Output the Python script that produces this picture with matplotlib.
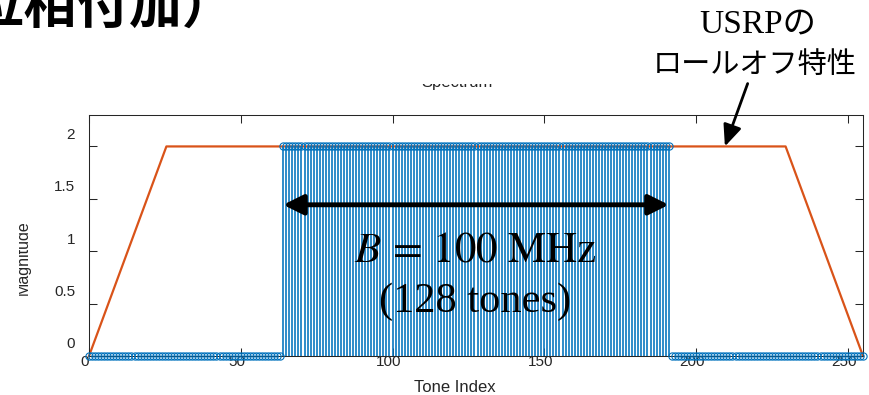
import matplotlib
matplotlib.use('Agg')
import matplotlib.pyplot as plt
import numpy as np
from matplotlib.transforms import Bbox, TransformedBbox, ScaledTranslation

# ---- data ----
tone_index = np.arange(256)
magnitudes = [0] * 64 + [2] * 128 + [0] * 64
rolloff_x = [0, 25.5, 229.5, 255]
rolloff_y = [0, 2, 2, 0]
xticks = [0, 50, 100, 150, 200, 250]
yticks = [0, 0.5, 1, 1.5, 2]
ytick_labels = ['0', '0.5', '1', '1.5', '2']
band_start, band_end = 64, 191

W, H = 870, 395
fig = plt.figure(figsize=(W / 100, H / 100), dpi=100)
ax = fig.add_axes([89 / W, 39 / H, (863 - 89) / W, (356 - 115) / H])

blue = '#0072BD'
orange = '#D95319'
gray = '#262626'

ax.plot(rolloff_x, rolloff_y, color=orange, lw=1.6, zorder=2, clip_on=False)
markerline, stemlines, baseline = ax.stem(tone_index, magnitudes, basefmt=' ')
plt.setp(stemlines, color=blue, linewidth=1.15, zorder=3)
plt.setp(markerline, marker='o', markersize=5.2, markerfacecolor='none',
         markeredgecolor=blue, markeredgewidth=0.8, clip_on=False, zorder=4)

ax.set_xlim(0, 255)
ax.set_ylim(0, 2.3)
ax.set_xticks(xticks)
ax.set_yticks(yticks)
ax.set_yticklabels(ytick_labels)
for s in ax.spines.values():
    s.set_color(gray)
    s.set_linewidth(0.75)
ax.tick_params(direction='in', length=6, width=0.75, color=gray, top=True,
               right=True, labelsize=11, labelcolor=gray)
ax.tick_params(axis='x', pad=-1)
ax.tick_params(axis='y', pad=10)
for lab in ax.get_xticklabels():
    lab.set_fontfamily('Liberation Sans')
    lab.set_transform(lab.get_transform() + ScaledTranslation(-4 / 100, 0, fig.dpi_scale_trans))
for lab in ax.get_yticklabels():
    lab.set_fontfamily('Liberation Sans')
    lab.set_transform(lab.get_transform() + ScaledTranslation(0, 13 / 100, fig.dpi_scale_trans))

# axis labels and title (partly hidden in the screenshot)
fig.text(455 / W, 1 - 388 / H, 'Tone Index', ha='center', va='center',
         fontsize=12, color=gray, family='Liberation Sans')
ylab = fig.text(31 / W, 1 - 258 / H, 'Magnitude', ha='right', va='center',
                rotation=90, fontsize=11.5, color=gray, family='Liberation Sans')
ylab.set_clip_box(TransformedBbox(Bbox([[19.5 / W, 0], [1, 1]]), fig.transFigure))
ylab.set_clip_on(True)
ttl = fig.text(457 / W, 1 - 87.5 / H, 'Spectrum', ha='center', va='baseline',
               fontsize=12, color=gray, family='Liberation Sans')
ttl.set_clip_box(TransformedBbox(Bbox([[0, 0], [1, 1 - 83.5 / H]]), fig.transFigure))
ttl.set_clip_on(True)

# bandwidth arrow and text
ax.annotate('', xy=(band_end, 1.443), xytext=(band_start, 1.443),
            arrowprops=dict(arrowstyle='<|-|>,head_length=0.6,head_width=0.3',
                            lw=3.5, color='black', mutation_scale=20,
                            shrinkA=0, shrinkB=0), zorder=6)
fig.text(475 / W, 1 - 262 / H, r'$B\, =\, 100\ \mathrm{MHz}$', ha='center', va='baseline',
         fontsize=31, color='black', math_fontfamily='stix')
fig.text(475 / W, 1 - 312 / H, '(128 tones)', ha='center', va='baseline',
         fontsize=30.5, color='black', family='Liberation Serif')

# roll-off annotation
ax.annotate('', xy=(209.5, 2.0), xytext=(217, 2.6), xycoords='data',
            arrowprops=dict(arrowstyle='-|>,head_length=0.65,head_width=0.28',
                            lw=2, color='black', mutation_scale=20,
                            shrinkA=0, shrinkB=0), annotation_clip=False, zorder=6)
fig.text(758 / W, 1 - 33 / H, 'USRPの', ha='center', va='baseline', fontsize=24,
         color='black', family=['Liberation Serif', 'Noto Sans CJK JP'])
fig.text(755 / W, 1 - 65 / H, 'ロールオフ特性', ha='center', va='center', fontsize=21,
         color='black', family=['Noto Sans CJK JP', 'DejaVu Sans'])

# slide heading, cut by the left and top edges
fig.text(-82 / W, 1 - 23 / H, '（位相付加）', ha='left', va='baseline', fontsize=38,
         color='black', fontweight='bold', family=['Noto Sans CJK JP', 'DejaVu Sans'])

fig.savefig('out.png', dpi=100)
